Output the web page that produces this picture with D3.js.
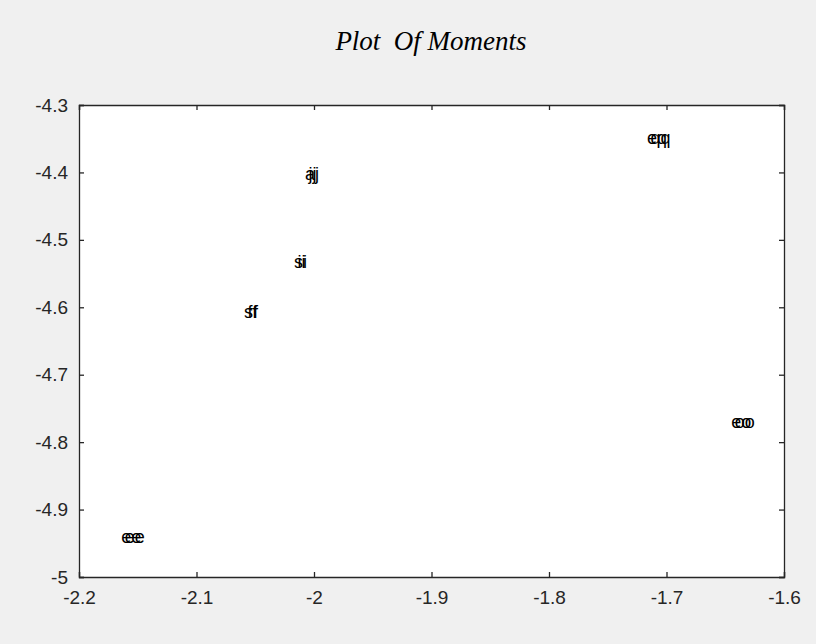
<!DOCTYPE html>
<html><head><meta charset="utf-8">
<script src="https://cdn.jsdelivr.net/npm/d3@7"></script>
<style>
body{margin:0;background:#f0f0f0;}
svg{display:block;}
</style></head>
<body>
<svg id="chart" width="816" height="644"></svg>
<script>
// Data: each point labelled by two overlapping text strings
const xValues = [-2.164, -2.0596, -2.017, -2.0077, -1.7166, -1.645];
const yValues = [-4.94, -4.606, -4.533, -4.402, -4.349, -4.77];
const labelsA = ["ee", "sf", "si", "aj", "eq", "eo"];
const labelsB = ["ee", "ff", "ii", "jj", "qq", "oo"];
const xOffsetB = 0.003;
const xTicks = [-2.2, -2.1, -2.0, -1.9, -1.8, -1.7, -1.6];
const xTickLabels = ["-2.2", "-2.1", "-2", "-1.9", "-1.8", "-1.7", "-1.6"];
const yTicks = [-4.3, -4.4, -4.5, -4.6, -4.7, -4.8, -4.9, -5];
const yTickLabels = ["-4.3", "-4.4", "-4.5", "-4.6", "-4.7", "-4.8", "-4.9", "-5"];
const xDomain = [-2.2, -1.6];
const yDomain = [-5, -4.3];
const title = "Plot\u00a0 Of Moments";

const svg = d3.select("#chart");
const L = 79, R = 784, T = 105, B = 577;
const x = d3.scaleLinear().domain(xDomain).range([L, R]);
const y = d3.scaleLinear().domain(yDomain).range([B, T]);
const axisColor = "#262626";

svg.append("rect").attr("x", L).attr("y", T).attr("width", R - L).attr("height", B - T).attr("fill", "#ffffff");

const tickFont = "'Liberation Sans', Arial, sans-serif";

const gx = svg.append("g").attr("transform", `translate(0,${B})`)
  .call(d3.axisBottom(x).tickValues(xTicks).tickSize(-5).tickPadding(14).tickFormat((d, i) => xTickLabels[i]));
const gxTop = svg.append("g").attr("transform", `translate(0,${T})`)
  .call(d3.axisTop(x).tickValues(xTicks).tickSize(-5).tickFormat(""));
const gy = svg.append("g").attr("transform", `translate(${L},0)`)
  .call(d3.axisLeft(y).tickValues(yTicks).tickSize(-5).tickPadding(11).tickFormat((d, i) => yTickLabels[i]));
const gyRight = svg.append("g").attr("transform", `translate(${R},0)`)
  .call(d3.axisRight(y).tickValues(yTicks).tickSize(-5).tickFormat(""));

[gx, gxTop, gy, gyRight].forEach(g => {
  g.select(".domain").attr("stroke", axisColor).attr("stroke-width", 1.3);
  g.selectAll(".tick line").attr("stroke", axisColor).attr("stroke-width", 1.3);
  g.selectAll(".tick text").attr("fill", axisColor).style("font-family", tickFont).style("font-size", "19px");
});

svg.append("text").attr("x", 431).attr("y", 50).attr("text-anchor", "middle")
  .style("font-family", "'Liberation Serif', 'Times New Roman', serif").style("font-style", "italic")
  .style("font-size", "27px").attr("fill", "#000").text(title);

const pts = xValues.map((v, i) => ({x: v, y: yValues[i], a: labelsA[i], b: labelsB[i]}));
const labelFont = "'Liberation Sans', Arial, sans-serif";
const lab = svg.append("g").selectAll("text").data(pts).join("text")
  .attr("x", d => x(d.x)).attr("y", d => y(d.y)).attr("dy", "0.35em")
  .style("font-family", labelFont).style("font-size", "18px").attr("fill", "#000");
lab.append("tspan").text(d => d.a);
lab.append("tspan").attr("x", d => x(d.x + xOffsetB)).text(d => d.b);
</script>
</body></html>
